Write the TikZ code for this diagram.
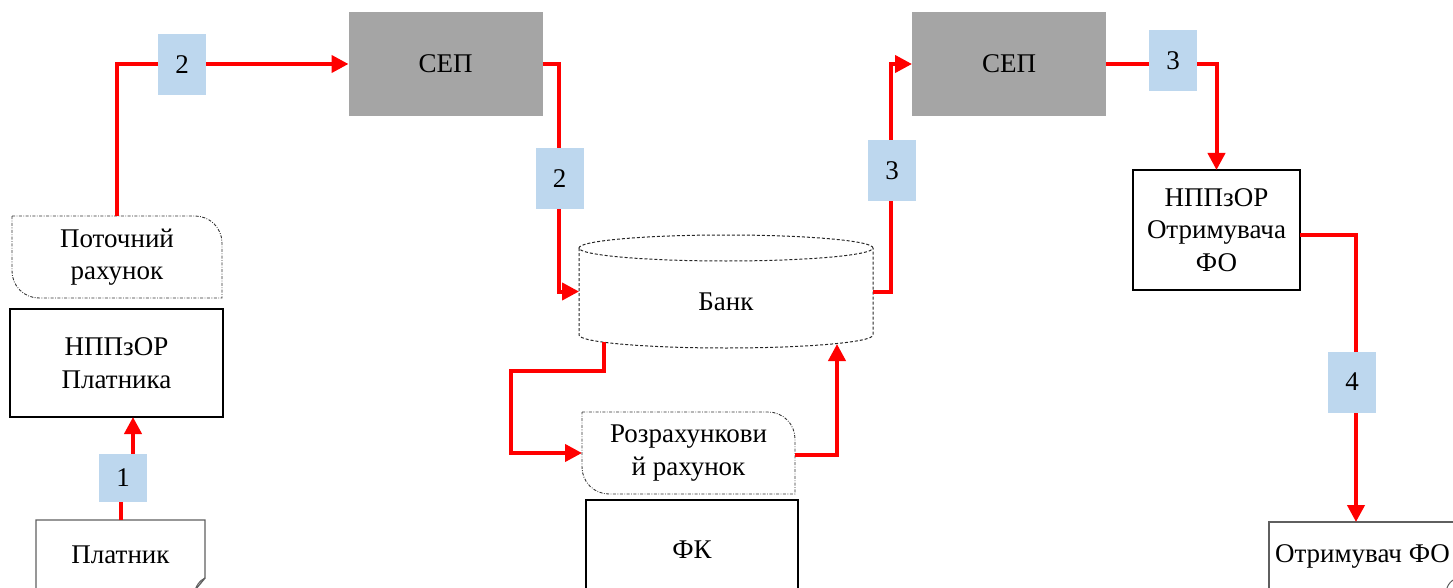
\documentclass[tikz,border=0pt]{standalone}
\usepackage{fontspec}
\setmainfont{Liberation Serif}
\usetikzlibrary{arrows.meta,calc}
\definecolor{flowred}{RGB}{255,0,0}
\definecolor{sepgray}{RGB}{165,165,165}
\definecolor{tagblue}{RGB}{189,215,238}
\definecolor{edgegray}{RGB}{95,95,95}

\tikzset{
  txt/.style={font=\fontsize{27}{32.5}\selectfont, align=center, inner sep=0pt, outer sep=0pt},
  sepbox/.style={txt, fill=sepgray, minimum width=194pt, minimum height=104pt},
  solidbox/.style={txt, draw=black, line width=2.5pt},
  tag/.style={txt, fill=tagblue, minimum width=48pt, minimum height=61pt},
  flow/.style={draw=flowred, line width=4pt, -{Triangle[length=17pt,width=17pt]}},
  acct/.style={draw=black!80, line width=0.9pt, dash pattern=on 3pt off 1.5pt on 0.8pt off 1.5pt},
  bankline/.style={draw=black!85, line width=1pt, dash pattern=on 3pt off 2pt},
  paper/.style={draw=edgegray, line width=1.4pt},
}

\begin{document}
\begin{tikzpicture}[x=1pt,y=-1pt]
\useasboundingbox (0,0) rectangle (1453,588);

% payer side
\node[txt, minimum width=169pt, minimum height=70pt] (platnyk) at (120.5,555) {Платник};
\draw[paper] (platnyk.south west) -- (platnyk.north west) -- (platnyk.north east)
  -- ($(platnyk.south east)+(0,-12)$) -- ($(platnyk.south east)+(-10,0)$);
\draw[paper, line width=1pt] ($(platnyk.south east)+(0,-12)$) .. controls ($(platnyk.south east)+(-6,-9)$) and ($(platnyk.south east)+(-8,-5)$) .. ($(platnyk.south east)+(-10,0)$);

\node[solidbox, minimum width=213pt, minimum height=108pt] (npp1) at (116.5,363) {НППзОР\\Платника};

\node[txt, minimum width=210pt, minimum height=82pt] (potoch) at (117,257) {Поточний\\рахунок};
\draw[acct] (potoch.north west) -- ($(potoch.north east)+(-27,0)$)
  .. controls ($(potoch.north east)+(-12,0)$) and ($(potoch.north east)+(0,12)$) .. ($(potoch.north east)+(0,27)$)
  -- (potoch.south east) -- ($(potoch.south west)+(27,0)$)
  .. controls ($(potoch.south west)+(12,0)$) and ($(potoch.south west)+(0,-12)$) .. ($(potoch.south west)+(0,-27)$) -- cycle;

% clearing system
\node[sepbox] (sep1) at (445.5,64) {СЕП};
\node[sepbox] (sep2) at (1009,64) {СЕП};

% bank
\node[txt, minimum width=294pt, minimum height=87pt] (bank) at (726,291.5) {\raisebox{-10pt}[\height][\depth]{Банк}};
\draw[bankline] (bank.north west) -- (bank.south west)
  arc[start angle=180, end angle=360, x radius=147pt, y radius=13pt] -- (bank.north east);
\draw[bankline] (bank.north) ellipse[x radius=147pt, y radius=13pt];
\coordinate (bankout) at ($(bank.south west)+(25,7)$);
\coordinate (bankin) at ($(bank.south east)+(-36,9)$);

\node[txt, minimum width=213pt, minimum height=82pt] (rozr) at (688.5,453) {Розрахункови\\й рахунок};
\draw[acct] (rozr.north west) -- ($(rozr.north east)+(-27,0)$)
  .. controls ($(rozr.north east)+(-12,0)$) and ($(rozr.north east)+(0,12)$) .. ($(rozr.north east)+(0,27)$)
  -- (rozr.south east) -- ($(rozr.south west)+(27,0)$)
  .. controls ($(rozr.south west)+(12,0)$) and ($(rozr.south west)+(0,-12)$) .. ($(rozr.south west)+(0,-27)$) -- cycle;

\node[solidbox, minimum width=212pt, minimum height=100pt] (fk) at (692,550) {ФК};

% payee side
\node[solidbox, minimum width=167pt, minimum height=120pt] (npp2) at (1216.5,230) {НППзОР\\Отримувача\\ФО};

\node[txt, minimum width=187pt, minimum height=68pt] (otr) at (1362.5,556) {Отримувач ФО};
\draw[paper] (otr.south west) -- (otr.north west) -- ($(otr.north east)+(4,0)$);
\draw[paper, line width=1pt] ($(otr.south east)+(-3,-10)$) .. controls ($(otr.south east)+(-7,-7)$) and ($(otr.south east)+(-9,-4)$) .. ($(otr.south east)+(-10,2)$);

% money flows
\draw[flow] (platnyk.north) -- ++(0,-40) -| ($(npp1.south)+(16.5,0)$);
\draw[flow] (potoch.north) |- (sep1.west);
\draw[flow] (sep1.east) -| ($(bank.west)+(-20,0)$) -- (bank.west);
\draw[flow] (bankout) |- ($(rozr.west)+(-71,-82)$) |- (rozr.west);
\draw[flow] ($(rozr.east)+(0,2)$) -| (bankin);
\draw[flow] (bank.east) -| ($(sep2.west)+(-21,0)$) -- (sep2.west);
\draw[flow] (sep2.east) -| (npp2.north);
\draw[flow] ($(npp2.east)+(0,5)$) -| ($(otr.north west)+(87,0)$);

% step numbers
\node[tag, minimum height=48pt] (t1) at (123,478) {1};
\node[tag] (t2a) at (182,64.5) {2};
\node[tag] (t2b) at (559.5,179) {2};
\node[tag] (t3a) at (892,170.5) {3};
\node[tag] (t3b) at (1173,60.5) {3};
\node[tag] (t4) at (1352,382) {4};
\end{tikzpicture}
\end{document}
